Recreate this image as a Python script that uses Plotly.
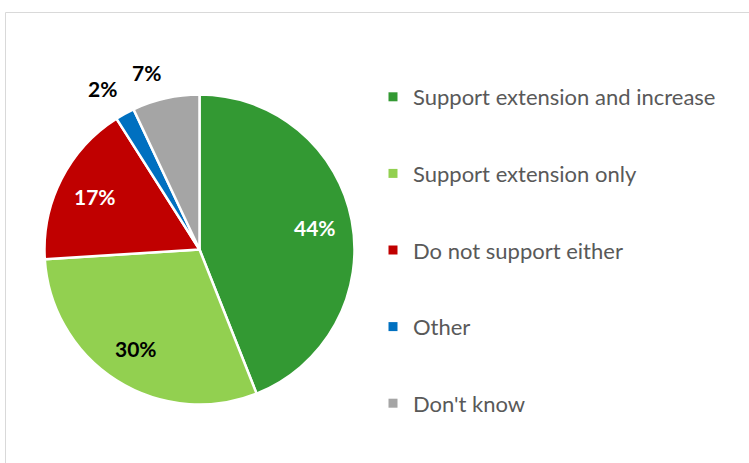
import math
import plotly.graph_objects as go

labels = ["Support extension and increase", "Support extension only",
          "Do not support either", "Other", "Don't know"]
values = [44, 30, 17, 2, 7]
colors = ["#339933", "#92D050", "#C00000", "#0070C0", "#A5A5A5"]
text_colors = ["white", "black", "white", "black", "black"]
label_outside = [False, False, False, True, True]

W, H = 749, 463
cx, cy, R = 199.5, 249.5, 155

fig = go.Figure()
fig.add_trace(go.Pie(
    labels=labels, values=values, sort=False, direction="clockwise", rotation=0,
    marker=dict(colors=colors, line=dict(color="white", width=2.5)),
    textinfo="none", showlegend=False, hoverinfo="label+percent",
    domain=dict(x=[(cx - R) / W, (cx + R) / W], y=[(H - cy - R) / H, (H - cy + R) / H]),
))
for lab, col in zip(labels, colors):
    fig.add_trace(go.Scatter(
        x=[None], y=[None], mode="markers", name=lab, legendgroup=lab,
        marker=dict(symbol="square", size=9, color=col), showlegend=True,
    ))

# data labels placed on each slice's mid-angle (derived from the values)
annotations = []
total = sum(values)
cum = 0
for v, tc, out in zip(values, text_colors, label_outside):
    theta = 2 * math.pi * (cum + v / 2) / total
    cum += v
    s, c = math.sin(theta), math.cos(theta)
    if out:
        rr = R + 12
        px, py = cx + rr * s, cy - rr * c
        xa = "right" if s < 0 else "left"
        ya = "bottom" if c > 0 else "top"
    else:
        rr = 0.76 * R
        px, py = cx + rr * s, cy - rr * c
        xa, ya = "center", "middle"
    annotations.append(dict(
        x=px / W, y=1 - py / H, xref="paper", yref="paper",
        text=f"<b>{v}%</b>", showarrow=False, xanchor=xa, yanchor=ya,
        font=dict(family="Lato", size=21, color=tc),
    ))

fig.update_layout(
    width=W, height=H, margin=dict(l=0, r=0, t=0, b=0),
    paper_bgcolor="white", plot_bgcolor="white",
    xaxis=dict(visible=False), yaxis=dict(visible=False),
    legend=dict(x=373 / W, xanchor="left", y=1 - 76 / H, yanchor="top",
                traceorder="grouped", tracegroupgap=45,
                font=dict(family="Lato", size=22, color="#595959"),
                bgcolor="rgba(0,0,0,0)"),
    annotations=annotations,
    shapes=[dict(type="rect", xref="paper", yref="paper",
                 x0=5.5 / W, x1=1.02, y0=-0.02, y1=1 - 12.5 / H,
                 line=dict(color="#D9D9D9", width=1), fillcolor="rgba(0,0,0,0)",
                 layer="below")],
)
fig.write_html("out.html", config={"displayModeBar": False},
               post_script="document.body.style.margin='0';")
